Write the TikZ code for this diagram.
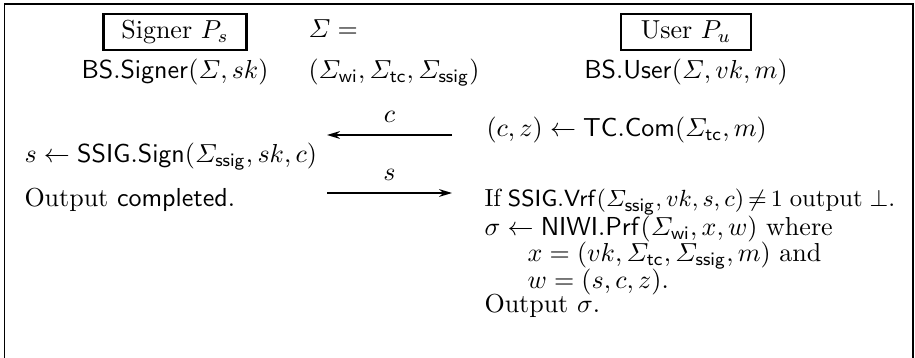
\documentclass[tikz,border=0pt]{standalone}
\usepackage{amsmath, amssymb}
\usepackage{tikz}
\usetikzlibrary{arrows.meta, positioning}

\newcommand{\algo}[1]{\mathsf{#1}}
\newcommand{\tightsp}{\thickmuskip=3mu\relax\spaceskip=0.28em\relax}

\begin{document}
\begin{tikzpicture}[x=0.3846pt, y=-0.3846pt,
							party/.style={draw, line width=0.8pt, minimum height=14pt, inner sep=0pt},
							txt/.style={inner sep=0pt, anchor=base west},
							ctr/.style={inner sep=0pt, anchor=base},
							tight/.style={font=\fontsize{9.5}{11}\selectfont},
							msg/.style={-{Stealth[length=5pt, width=3pt]}, line width=0.6pt}
						]
						\useasboundingbox (0,0) rectangle (915,358);
						\draw[line width=0.6pt] (4.5,358) -- (4.5,4) -- (913,4) -- (913,358);
						% parties
						\node[party, minimum width=55pt] (signer) at (175,32) {Signer $P_s$};
						\node[party, minimum width=50pt] (user) at (686,32) {User $P_u$};
						\node[ctr] (bssigner) at (175,79) {$\algo{BS.Signer}(\varSigma, sk)$};
						\node[ctr] (bsuser) at (686,79) {$\algo{BS.User}(\varSigma, vk, m)$};
						\node[txt] (sigma) at (308,38) {$\varSigma =$};
						\node[txt] (crs) at (308,79) {$(\varSigma_{\algo{wi}}, \varSigma_{\algo{tc}}, \varSigma_{\algo{ssig}})$};
						% messages
						\coordinate (cl) at (327,135);
						\coordinate (cr) at (452,135);
						\coordinate (sl) at (327,193);
						\coordinate (sr) at (452,193);
						\draw[msg] (cr) -- node[above=1pt] (clbl) {$c$} (cl);
						\draw[msg] (sl) -- node[above=1pt] (slbl) {$s$} (sr);
						\node[txt] (commit) at (486,137) {$(c, z) \leftarrow \algo{TC.Com}(\varSigma_{\algo{tc}}, m)$};
						\node[txt] (sign) at (24,163) {$s \leftarrow \algo{SSIG.Sign}(\varSigma_{\algo{ssig}}, sk, c)$};
						\node[txt] (done) at (24,207) {Output \textsf{completed}.};
						% user output
						\node[txt, tight] (u1) at (484,207) {\tightsp If $\algo{SSIG.Vrf}(\varSigma_{\algo{ssig}}, vk, s, c) \neq 1$ output $\bot$.};
						\node[txt] (u2) at (484,236) {$\sigma \leftarrow \algo{NIWI.Prf}(\varSigma_{\algo{wi}}, x, w)$ where};
						\node[txt] (u3) at (527,262) {$x = (vk, \varSigma_{\algo{tc}}, \varSigma_{\algo{ssig}}, m)$ and};
						\node[txt] (u4) at (527,288) {$w = (s, c, z)$.};
						\node[txt] (u5) at (484,312) {Output $\sigma$.};
					\end{tikzpicture}
\end{document}
